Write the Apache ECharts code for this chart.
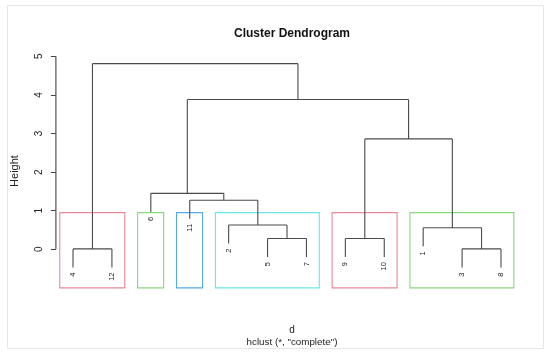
<!DOCTYPE html>
<html><head><meta charset="utf-8">
<script src="https://cdn.jsdelivr.net/npm/echarts@6/dist/echarts.min.js"></script>
<style>html,body{margin:0;padding:0;background:#fff}#c{width:550px;height:357px}</style>
</head><body><div id="c"></div>
<script>
// ---- data ----
const leafOrder = ['4','12','6','11','2','5','7','9','10','1','3','8'];
// merges (R hclust style): child ids are leaf labels or 'm<i>' for earlier merge i
const mergeA = ['4', '3', '5', '9',  '1',  '2',  '11', '6',  'm4', 'm8', 'm1'];
const mergeB = ['12','8', '7', '10', 'm2', 'm3', 'm6', 'm7', 'm5', 'm9', 'm10'];
const mergeHeight = [0.01, 0.01, 0.28, 0.28, 0.56, 0.63, 1.27, 1.45, 2.86, 3.88, 4.81];
const yTicks = [0, 1, 2, 3, 4, 5];
const kClusters = 6;
const rectColors = ['#EC8798', '#88D87D', '#55AAEB', '#6AE6E8'];

// ---- layout helpers ----
const FONT = "'Liberation Sans', Arial, sans-serif";
const xMin = 0.56, xMax = 12.44, yMin = -1, yMax = 5.05;
const hang = 0.1 * Math.max(...mergeHeight);

const nodeX = {}, nodeH = {}, kids = {};
leafOrder.forEach((l, i) => { nodeX[l] = i + 1; });
const segs = [], leafLabels = [];
mergeA.forEach((a, i) => {
  const b = mergeB[i], h = mergeHeight[i];
  [a, b].forEach(c => {
    const isLeaf = !(c in nodeH);
    const bottom = isLeaf ? h - hang : nodeH[c];
    segs.push([nodeX[c], bottom, nodeX[c], h]);
    if (isLeaf) leafLabels.push([nodeX[c], bottom, c]);
  });
  segs.push([nodeX[a], h, nodeX[b], h]);
  const id = 'm' + (i + 1);
  nodeX[id] = (nodeX[a] + nodeX[b]) / 2;
  nodeH[id] = h;
  kids[id] = [a, b];
});

// cut tree into k clusters
let groups = ['m' + mergeA.length];
while (groups.length < kClusters) {
  let best = -1, bh = -Infinity;
  groups.forEach((g, i) => { if (g in nodeH && nodeH[g] > bh) { bh = nodeH[g]; best = i; } });
  const g = groups[best];
  groups.splice(best, 1, kids[g][0], kids[g][1]);
}
function leavesOf(n) { return (n in kids) ? leavesOf(kids[n][0]).concat(leavesOf(kids[n][1])) : [n]; }
const sortedH = mergeHeight.slice().sort((a, b) => b - a);
const rectTop = (sortedH[kClusters - 2] + sortedH[kClusters - 1]) / 2;
const rects = groups.map(g => {
  const xs = leavesOf(g).map(l => nodeX[l]);
  return [Math.min(...xs) - 0.34, yMin, Math.max(...xs) + 0.33, rectTop];
}).sort((a, b) => a[0] - b[0]);

const axisSeg = [[xMin, yTicks[0], xMin, yTicks[yTicks.length - 1]]];

function lineItem(params, api) {
  const p1 = api.coord([api.value(0), api.value(1)]);
  const p2 = api.coord([api.value(2), api.value(3)]);
  return { type: 'line', shape: { x1: p1[0], y1: p1[1], x2: p2[0], y2: p2[1] },
    style: { stroke: '#4a4a4a', lineWidth: 1.1 } };
}

const chart = echarts.init(document.getElementById('c'));
chart.setOption({
  backgroundColor: '#fff',
  animation: false,
  title: [
    { text: 'Cluster Dendrogram', left: 287, top: 23, textAlign: 'center',
      textStyle: { fontSize: 12, fontWeight: 'bold', color: '#111', fontFamily: FONT } },
    { text: 'd', left: 287, top: 320, textAlign: 'center',
      textStyle: { fontSize: 10, fontWeight: 'normal', color: '#222', fontFamily: FONT } },
    { text: 'hclust (*, "complete")', left: 287, top: 332, textAlign: 'center',
      textStyle: { fontSize: 9.8, fontWeight: 'normal', color: '#222', fontFamily: FONT } }
  ],
  graphic: [
    { type: 'rect', z: -10, shape: { x: 7.5, y: 5.5, width: 536, height: 343 },
      style: { fill: null, stroke: '#E6E6EC', lineWidth: 1 } },
    { type: 'text', x: 15, y: 171, rotation: Math.PI / 2,
      style: { text: 'Height', fontSize: 11, fontFamily: FONT, fill: '#222', align: 'center', verticalAlign: 'middle' } }
  ],
  grid: { left: 55.9, right: 31.9, top: 54.4, bottom: 69.1 },
  xAxis: { type: 'value', min: xMin, max: xMax, show: false },
  yAxis: {
    type: 'value', min: yMin, max: yMax, interval: 1,
    axisLine: { show: false },
    splitLine: { show: false },
    axisTick: { show: true, length: 5, customValues: yTicks, lineStyle: { color: '#444' } },
    axisLabel: { customValues: yTicks, rotate: 90, margin: 12, fontSize: 10, color: '#222', fontFamily: FONT }
  },
  series: [
    { type: 'custom', data: axisSeg, renderItem: (p, api) => {
        const r = lineItem(p, api); r.style.stroke = '#444'; return r; } },
    { type: 'custom', data: rects, renderItem: (params, api) => {
        const p1 = api.coord([api.value(0), api.value(3)]);
        const p2 = api.coord([api.value(2), api.value(1)]);
        return { type: 'rect', shape: { x: p1[0], y: p1[1], width: p2[0] - p1[0], height: p2[1] - p1[1] },
          style: { fill: null, stroke: rectColors[params.dataIndex % rectColors.length], lineWidth: 1.1 } };
      } },
    { type: 'custom', data: segs, renderItem: lineItem },
    { type: 'custom', data: leafLabels.map(d => [d[0], d[1]]), renderItem: (params, api) => {
        const p = api.coord([api.value(0), api.value(1)]);
        return { type: 'text', x: p[0], y: p[1] + 5, rotation: Math.PI / 2,
          style: { text: leafLabels[params.dataIndex][2], fontSize: 7.5, fontFamily: FONT, fill: '#222',
            align: 'right', verticalAlign: 'middle' } };
      } }
  ]
});
</script>
</body></html>
